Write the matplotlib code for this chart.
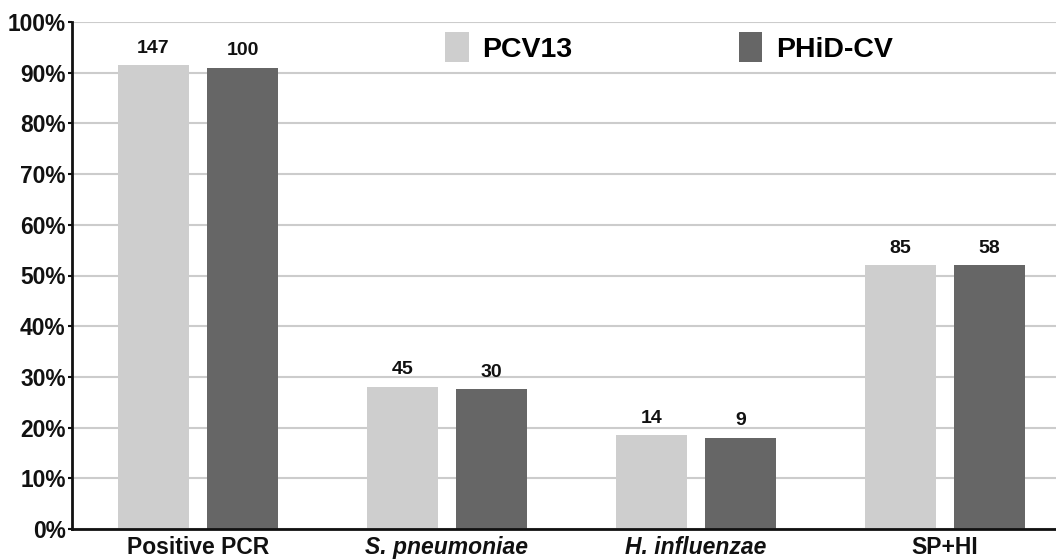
import matplotlib.pyplot as plt
import numpy as np

plt.rcParams['font.family'] = ['Liberation Sans', 'DejaVu Sans']
plt.rcParams['font.weight'] = 'bold'

# Categories and series (percent of samples, with counts shown above bars)
categories = ['Positive PCR', 'S. pneumoniae', 'H. influenzae', 'SP+HI']
italic_cats = [False, True, True, False]
series_names = ['PCV13', 'PHiD-CV']
pcv13_pct = [91.5, 28.1, 18.5, 52.1]
phid_pct = [91.0, 27.6, 18.0, 52.1]
pcv13_n = [147, 45, 14, 85]
phid_n = [100, 30, 9, 58]

light = '#cecece'
dark = '#666666'

fig = plt.figure(figsize=(10.56, 5.59), dpi=100)
ax = fig.add_axes([72 / 1056, 30 / 559, 984 / 1056, 507 / 559])

x = np.arange(len(categories))
w = 0.285
off = 0.179
b1 = ax.bar(x - off, pcv13_pct, w, color=light, label=series_names[0], zorder=2)
b2 = ax.bar(x + off, phid_pct, w, color=dark, label=series_names[1], zorder=2)

# Count labels above the bars
for bars, counts in [(b1, pcv13_n), (b2, phid_n)]:
    for rect, n in zip(bars, counts):
        ax.annotate(str(n), (rect.get_x() + rect.get_width() / 2, rect.get_height()),
                    xytext=(0, 6), textcoords='offset points', ha='center', va='bottom',
                    fontsize=14, fontweight='bold', color='#111111')

ax.set_xlim(-0.506, 3.446)
ax.set_ylim(0, 100)
ax.set_yticks(np.arange(0, 101, 10))
ax.set_yticklabels([f'{v}%' for v in range(0, 101, 10)], fontsize=16.4, fontweight='bold')
ax.yaxis.grid(True, color='#cccccc', linewidth=1.5, zorder=0)
ax.set_axisbelow(True)

ax.set_xticks(x)
ax.set_xticklabels(categories, fontsize=16.5, fontweight='bold')
for lbl, it in zip(ax.get_xticklabels(), italic_cats):
    if it:
        lbl.set_style('italic')
ax.tick_params(axis='x', length=0, pad=5, colors='#111111')
ax.tick_params(axis='y', length=3, width=1.5, pad=1.5, colors='#111111')

for s in ['top', 'right']:
    ax.spines[s].set_visible(False)
for s in ['left', 'bottom']:
    ax.spines[s].set_linewidth(2)
    ax.spines[s].set_color('#111111')

ax.legend(loc='upper left', bbox_to_anchor=(0.353, 1.03), ncol=2, frameon=False,
          handlelength=0.83, handleheight=1.2, columnspacing=5.85,
          handletextpad=0.47, prop={'weight': 'bold', 'size': 20.5})

fig.savefig('out.png', dpi=100)
